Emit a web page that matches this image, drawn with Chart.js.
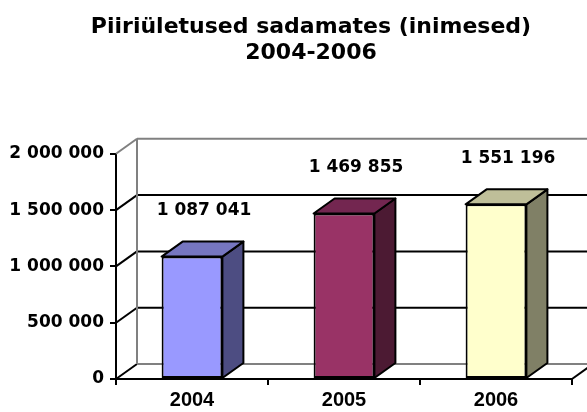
<!DOCTYPE html>
<html>
<head>
<meta charset="utf-8">
<script src="https://cdn.jsdelivr.net/npm/chart.js@4"></script>
<style>
  body { margin: 0; background: #fff; }
</style>
</head>
<body>
<canvas id="chart" width="587" height="412"></canvas>
<script>
// data
const years = ['2004', '2005', '2006'];
const crossings = [1087041, 1469855, 1551196];
const yMin = 0;
const yMax = 2000000;
const yStep = 500000;

// looks
const frontColors = ['#9999FF', '#993366', '#FFFFCC'];
const sideColors = ['#4D4D82', '#4C1A33', '#808066'];
const topColors = ['#7676C0', '#732650', '#BFBF99'];
const DX = 21, DY = -15;

const fmt = v => String(v).replace(/\B(?=(\d{3})+(?!\d))/g, ' ');

function line(ctx, pts, color, w) {
  ctx.beginPath();
  ctx.moveTo(pts[0][0], pts[0][1]);
  for (let i = 1; i < pts.length; i++) ctx.lineTo(pts[i][0], pts[i][1]);
  ctx.strokeStyle = color;
  ctx.lineWidth = w;
  ctx.stroke();
}

// title sits a bit right of the canvas middle in the original
const shiftTitle = {
  id: 'shiftTitle',
  afterLayout(chart) {
    if (chart.titleBlock) chart.titleBlock.left = 50;
  }
};

// back walls + floor
const walls = {
  id: 'walls',
  beforeDatasetsDraw(chart) {
    const { ctx, chartArea: a, scales: { y } } = chart;
    ctx.save();
    const n = y.ticks.length;
    y.ticks.forEach((t, i) => {
      const py = y.getPixelForValue(t.value);
      const edge = i === 0 || i === n - 1;
      line(ctx, [[a.left, py], [a.left + DX, py + DY]], i === n - 1 ? '#808080' : '#000', 2);
      line(ctx, [[a.left + DX, py + DY], [a.right + DX, py + DY]], edge ? '#808080' : '#000', 2);
    });
    line(ctx, [[a.left + DX, y.getPixelForValue(yMin) + DY], [a.left + DX, y.getPixelForValue(yMax) + DY]], '#808080', 2);
    line(ctx, [[a.right, a.bottom], [a.right + DX, a.bottom + DY]], '#000', 2);
    ctx.restore();
  }
};

// side/top faces of bars and value labels
const bars3d = {
  id: 'bars3d',
  afterDatasetsDraw(chart) {
    const { ctx } = chart;
    const meta = chart.getDatasetMeta(0);
    ctx.save();
    ctx.lineJoin = 'round';
    meta.data.forEach((bar, i) => {
      const half = bar.width / 2;
      const l = bar.x - half, r = bar.x + half, t = bar.y, b = bar.base;
      ctx.beginPath();
      ctx.moveTo(r, t);
      ctx.lineTo(r + DX, t + DY);
      ctx.lineTo(r + DX, b + DY);
      ctx.lineTo(r, b);
      ctx.closePath();
      ctx.fillStyle = sideColors[i];
      ctx.fill();
      ctx.strokeStyle = '#000';
      ctx.lineWidth = 2;
      ctx.stroke();

      ctx.beginPath();
      ctx.moveTo(l, t);
      ctx.lineTo(l + DX, t + DY);
      ctx.lineTo(r + DX, t + DY);
      ctx.lineTo(r, t);
      ctx.closePath();
      ctx.fillStyle = topColors[i];
      ctx.fill();
      ctx.stroke();

      ctx.fillStyle = '#000';
      ctx.font = 'bold 17px "DejaVu Sans"';
      ctx.textAlign = 'center';
      ctx.textBaseline = 'middle';
      ctx.fillText(fmt(crossings[i]), bar.x + 12, t - 46);
    });
    ctx.restore();
  }
};

new Chart(document.getElementById('chart'), {
  type: 'bar',
  data: {
    labels: years,
    datasets: [{
      data: crossings,
      backgroundColor: frontColors,
      borderColor: '#000',
      borderWidth: 2,
      borderSkipped: false,
      categoryPercentage: 1,
      barPercentage: 0.4
    }]
  },
  options: {
    responsive: false,
    animation: false,
    devicePixelRatio: 1,
    layout: { padding: { left: 0, right: 15, top: 0, bottom: 0 } },
    plugins: {
      legend: { display: false },
      tooltip: { enabled: false },
      title: {
        display: true,
        text: ['Piiriületused sadamates (inimesed)', '2004-2006'],
        color: '#000',
        font: { family: '"DejaVu Sans"', size: 22, weight: 'bold', lineHeight: 1.2 },
        padding: { top: 14, bottom: 87 }
      }
    },
    scales: {
      x: {
        offset: true,
        grid: { offset: true, drawOnChartArea: false, tickLength: 6, color: '#000', lineWidth: 2 },
        border: { color: '#000', width: 2 },
        ticks: { color: '#000', padding: 3, font: { family: '"Liberation Sans"', size: 20, weight: 'bold' } },
        afterFit: s => { s.height = 33; }
      },
      y: {
        min: yMin,
        max: yMax,
        grid: { drawOnChartArea: false, tickLength: 6, color: '#000', lineWidth: 2 },
        border: { color: '#000', width: 2 },
        ticks: {
          stepSize: yStep,
          color: '#000',
          padding: 6,
          font: { family: '"DejaVu Sans"', size: 17, weight: 'bold' },
          callback: v => fmt(v)
        },
        afterFit: s => { s.width = 116; }
      }
    }
  },
  plugins: [shiftTitle, walls, bars3d]
});
</script>
</body>
</html>
